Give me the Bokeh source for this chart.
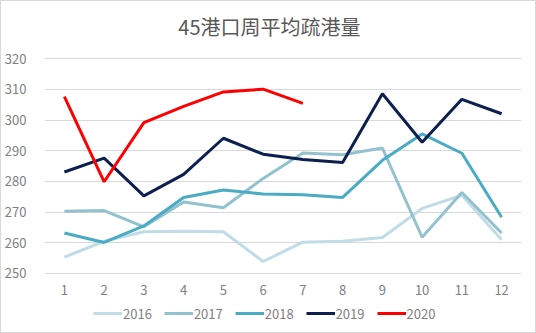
from bokeh.plotting import figure
from bokeh.models import Legend, LegendItem, FixedTicker, Range1d, Label
from bokeh.embed import file_html
from bokeh.resources import INLINE

months = list(range(1, 13))
s2016 = [255.3, 260.5, 263.6, 263.8, 263.6, 253.9, 260.2, 260.5, 261.7, 271.2, 275.5, 261.0]
s2017 = [270.3, 270.5, 265.2, 273.3, 271.4, 281.0, 289.3, 288.7, 290.9, 261.8, 276.4, 263.2]
s2018 = [263.2, 260.1, 265.5, 274.8, 277.2, 275.9, 275.7, 274.8, 286.9, 295.5, 289.2, 268.3]
s2019 = [283.1, 287.6, 275.3, 282.3, 294.1, 288.9, 287.2, 286.2, 308.6, 292.8, 306.8, 302.1]
s2020 = [307.7, 279.9, 299.2, 304.5, 309.2, 310.1, 305.5]
series = [("2016", s2016, "#c0dce6"), ("2017", s2017, "#93c2cf"),
          ("2018", s2018, "#4aabc4"), ("2019", s2019, "#0c1f4f"),
          ("2020", s2020, "#ff0000")]
y_ticks = [250, 260, 270, 280, 290, 300, 310, 320]
title_text = "45港口周平均疏港量"

FONT = "Noto Sans CJK SC"
# canvas (inside 1px border) is 534x331; value 320 at canvas y 57, 250 at 270.3
k = (270.3 - 57) / 70.0
y_top = 320 + 57 / k
y_bottom = 250 - (331 - 270.3) / k
p = figure(width=536, height=333, output_backend="svg", toolbar_location=None,
           x_range=Range1d(0.5, 12.5), y_range=Range1d(y_bottom, y_top),
           min_border_left=43, min_border_right=16, min_border_top=0, min_border_bottom=0)
p.outline_line_color = None
p.xgrid.grid_line_color = None
p.ygrid.grid_line_color = "#d9d9d9"
p.ygrid.grid_line_width = 1
p.yaxis.ticker = FixedTicker(ticks=y_ticks)
p.xaxis.ticker = FixedTicker(ticks=months)
p.xaxis.fixed_location = 250
for ax in (p.xaxis[0], p.yaxis[0]):
    ax.axis_line_color = None
    ax.major_tick_line_color = None
    ax.minor_tick_line_color = None
    ax.major_label_text_font = FONT
    ax.major_label_text_font_size = "13px"
    ax.major_label_text_color = "#808080"
p.xaxis.major_label_standoff = 6
p.yaxis.major_label_standoff = 12

# chart title, centred on the whole chart (canvas x 267, y 25)
title_x = 0.5 + (267 - 43) / (518 - 43) * 12
title_y = y_top - 25 / k
p.add_layout(Label(x=title_x, y=title_y, text=title_text, text_align="center",
                   text_baseline="middle", text_font=FONT, text_font_size="20px",
                   text_color="#595959"))

items = []
for name, vals, col in series:
    r = p.line(months[:len(vals)], vals, line_color=col, line_width=3)
    items.append(LegendItem(label=name, renderers=[r]))

legend = Legend(items=items, orientation="horizontal", location=(49, 11),
                label_text_font=FONT, label_text_font_size="13px",
                label_text_color="#808080", border_line_color=None,
                background_fill_alpha=0,
                glyph_width=29, label_standoff=1, spacing=12, padding=0, margin=0)
p.add_layout(legend)
p.styles = {"border": "1px solid #d9d9d9", "box-sizing": "border-box"}

open("out.html", "w").write(file_html(p, INLINE))
